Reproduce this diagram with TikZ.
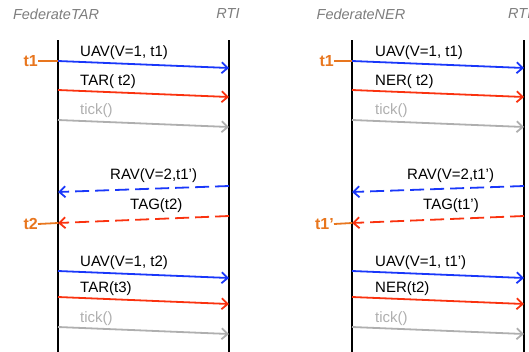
\documentclass[tikz,border=0pt]{standalone}
\usepackage{fontspec}
\setmainfont{Liberation Sans}
\usepackage{xcolor}
\usetikzlibrary{arrows.meta}

\definecolor{msgblue}{RGB}{25,55,250}
\definecolor{msgred}{RGB}{250,50,15}
\definecolor{msggray}{RGB}{175,175,175}
\definecolor{timeorange}{RGB}{232,118,30}
\definecolor{headgray}{RGB}{125,125,125}

\begin{document}
\begin{tikzpicture}[x=1pt, y=-1pt, >={Straight Barb[length=6pt,width=11pt,line width=1.8pt]},
    lifeline/.style={line width=2.2pt},
    msg/.style={->, line width=1.8pt},
    reply/.style={msg, dash pattern=on 14pt off 6pt},
    lbl/.style={anchor=west, inner sep=0pt, font=\fontsize{15}{17}\selectfont},
    head/.style={inner sep=0pt, text=headgray, font=\fontsize{14.5}{16}\selectfont\itshape},
    tlbl/.style={anchor=east, inner sep=0pt, text=timeorange, font=\fontsize{16}{18}\selectfont\bfseries},
    tmark/.style={line width=1.8pt, timeorange}]
    \useasboundingbox (0,0) rectangle (529,351);

    % Draw the headers
    \node[head] (fedT) at (56,14) {FederateTAR};
    \node[head] (rtiT) at (228,14) {RTI};
    \node[head] (fedN) at (361,14) {FederateNER};
    \node[head, anchor=west] (rtiN) at (508,14) {RTI};

    % Draw the lifelines
    \foreach \x/\n in {58/A, 229/B, 352/C, 524/D} {
        \coordinate (\n top) at (\x,40);
        \coordinate (\n bot) at (\x,352);
        \draw[lifeline] (\n top) -- (\n bot);
    }

    % Left panel: FederateTAR
    \coordinate (A1) at (58,61);   \coordinate (B1) at (229,68);
    \coordinate (A2) at (58,90);   \coordinate (B2) at (229,97);
    \coordinate (A3) at (58,120);  \coordinate (B3) at (229,127);
    \coordinate (B4) at (229,186); \coordinate (A4) at (58,192);
    \coordinate (B5) at (229,216); \coordinate (A5) at (58,223);
    \coordinate (A6) at (58,271);  \coordinate (B6) at (229,278);
    \coordinate (A7) at (58,297);  \coordinate (B7) at (229,304);
    \coordinate (A8) at (58,327);  \coordinate (B8) at (229,334);

    \draw[msg, msgblue] (A1) -- (B1);
    \draw[msg, msgred] (A2) -- (B2);
    \draw[msg, msggray] (A3) -- (B3);
    \draw[reply, msgblue] (B4) -- (A4);
    \draw[reply, msgred] (B5) -- (A5);
    \draw[msg, msgblue] (A6) -- (B6);
    \draw[msg, msgred] (A7) -- (B7);
    \draw[msg, msggray] (A8) -- (B8);

    \node[lbl] (uavA) at (80,53) {UAV(V=1, t1)};
    \node[lbl] (tarA) at (80,82) {TAR( t2)};
    \node[lbl, text=msggray] (tickA) at (80,111) {tick()};
    \node[lbl] (ravA) at (110,176) {RAV(V=2,t1’)};
    \node[lbl] (tagA) at (130,206) {TAG(t2)};
    \node[lbl] (uavAA) at (80,263) {UAV(V=1, t2)};
    \node[lbl] (tarAA) at (80,289) {TAR(t3)};
    \node[lbl, text=msggray] (tickAA) at (80,319) {tick()};

    % Time marks
    \node[tlbl] (tA1) at (38,61) {t1};
    \node[tlbl] (tA2) at (38,224) {t2};
    \draw[tmark] (tA1.east) -- (A1);
    \draw[tmark] (tA2.east) -- (A5);

    % Right panel: FederateNER
    \coordinate (C1) at (352,61);  \coordinate (D1) at (524,68);
    \coordinate (C2) at (352,90);  \coordinate (D2) at (524,97);
    \coordinate (C3) at (352,120); \coordinate (D3) at (524,127);
    \coordinate (D4) at (524,186); \coordinate (C4) at (352,192);
    \coordinate (D5) at (524,216); \coordinate (C5) at (352,223);
    \coordinate (C6) at (352,271); \coordinate (D6) at (524,278);
    \coordinate (C7) at (352,297); \coordinate (D7) at (524,304);
    \coordinate (C8) at (352,327); \coordinate (D8) at (524,334);

    \draw[msg, msgblue] (C1) -- (D1);
    \draw[msg, msgred] (C2) -- (D2);
    \draw[msg, msggray] (C3) -- (D3);
    \draw[reply, msgblue] (D4) -- (C4);
    \draw[reply, msgred] (D5) -- (C5);
    \draw[msg, msgblue] (C6) -- (D6);
    \draw[msg, msgred] (C7) -- (D7);
    \draw[msg, msggray] (C8) -- (D8);

    \node[lbl] (uavC) at (375,53) {UAV(V=1, t1)};
    \node[lbl] (nerC) at (375,82) {NER( t2)};
    \node[lbl, text=msggray] (tickC) at (375,111) {tick()};
    \node[lbl] (ravC) at (407,176) {RAV(V=2,t1’)};
    \node[lbl] (tagC) at (423,206) {TAG(t1’)};
    \node[lbl] (uavCC) at (375,263) {UAV(V=1, t1’)};
    \node[lbl] (nerCC) at (375,289) {NER(t2)};
    \node[lbl, text=msggray] (tickCC) at (375,319) {tick()};

    % Time marks
    \node[tlbl] (tC1) at (334,61) {t1};
    \node[tlbl] (tC2) at (334,224) {t1’};
    \draw[tmark] (tC1.east) -- (C1);
    \draw[tmark] (tC2.east) -- (C5);

\end{tikzpicture}
\end{document}
